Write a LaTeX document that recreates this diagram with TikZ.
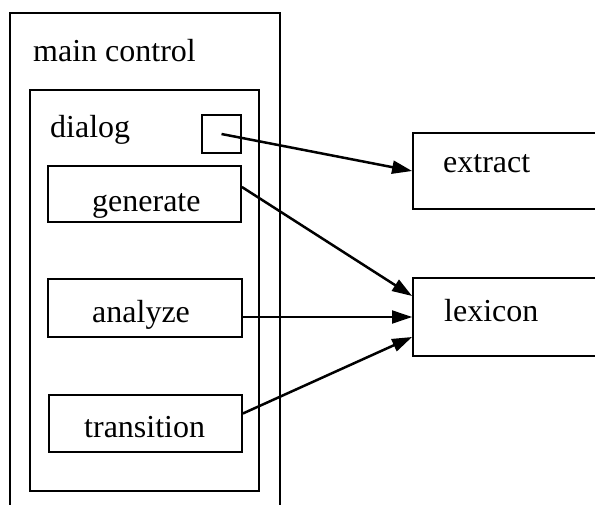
\documentclass[tikz,border=0pt]{standalone}
\usepackage{fontspec}
\setmainfont{Liberation Serif}
\usetikzlibrary{arrows.meta}
\begin{document}
\begin{tikzpicture}[x=1pt,y=-1pt,
  box/.style={draw, line width=1.8pt, inner sep=0pt, rectangle},
  lbl/.style={anchor=base west, inner sep=0pt, font=\fontsize{32}{38}\selectfont},
  conn/.style={line width=2.5pt, -{Triangle[length=20pt,width=13pt]}}]
\useasboundingbox (0,0) rectangle (595,505);
\fill[white] (0,0) rectangle (595,505);
\clip (0,0) rectangle (595,505);
% outer box (open at bottom)
\node[box, minimum width=270pt, minimum height=530pt] (main) at (145,278) {};
\node[lbl] (maint) at (33,62) {main control};
% dialog box
\node[box, minimum width=229pt, minimum height=401pt] (dialog) at (144.5,290.5) {};
\node[lbl] (dialogt) at (50,138) {dialog};
\node[box, minimum width=39pt, minimum height=38pt] (sq) at (221.5,134) {};
% inner boxes
\node[box, minimum width=193pt, minimum height=56pt] (gen) at (144.5,194) {};
\node[lbl] (gent) at (92,212) {generate};
\node[box, minimum width=194pt, minimum height=58pt] (ana) at (145,308) {};
\node[lbl] (anat) at (92,323) {analyze};
\node[box, minimum width=193pt, minimum height=57pt] (tra) at (145.5,423.5) {};
\node[lbl] (trat) at (84,437) {transition};
% right boxes (open at right)
\node[box, minimum width=227pt, minimum height=76pt] (ext) at (526.5,171) {};
\node[lbl] (extt) at (443,173) {extract};
\node[box, minimum width=227pt, minimum height=78pt] (lex) at (526.5,317) {};
\node[lbl] (lext) at (444,322) {lexicon};
% connectors
\draw[conn] (sq.center) -- (ext.west);
\draw[conn] ([yshift=7pt]gen.east) -- ([yshift=21pt]lex.west);
\draw[conn, line width=1.8pt] (ana.east |- lex.west) -- (lex.west);
\draw[conn] ([yshift=10pt]tra.east) -- ([yshift=-20pt]lex.west);
\end{tikzpicture}
\end{document}
